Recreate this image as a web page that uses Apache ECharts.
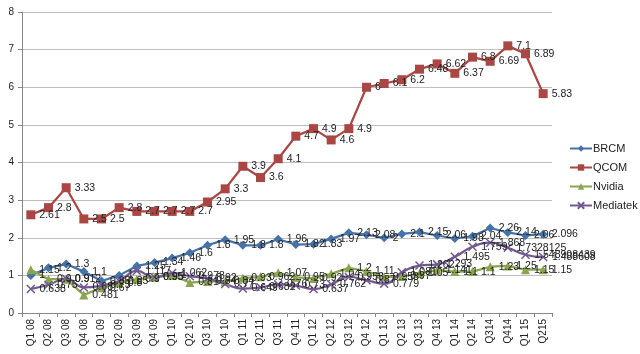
<!DOCTYPE html>
<html>
<head>
<meta charset="utf-8">
<script src="https://cdn.jsdelivr.net/npm/echarts@6/dist/echarts.min.js"></script>
<style>
  html, body { margin: 0; padding: 0; background: #fff; }
  #chart { width: 640px; height: 354px; }
</style>
</head>
<body>
<div id="chart"></div>
<script>
const quarters = ['Q1 08', 'Q2 08', 'Q3 08', 'Q4 08', 'Q1 09', 'Q2 09', 'Q3 09', 'Q4 09', 'Q1 10', 'Q2 10',
  'Q3 10', 'Q4 10', 'Q1 11', 'Q2 11', 'Q3 11', 'Q4 11', 'Q1 12', 'Q2 12', 'Q3 12', 'Q4 12',
  'Q1 13', 'Q2 13', 'Q3 13', 'Q4 13', 'Q1 14', 'Q2 14', 'Q314', 'Q414', 'Q1 15', 'Q215']

const brcm = [1, 1.2, 1.3, 1.1, 0.85, 1, 1.25, 1.34, 1.46, 1.6,
  1.8, 1.95, 1.8, 1.8, 1.96, 1.82, 1.83, 1.97, 2.13, 2.08,
  2, 2.1, 2.15, 2.06, 1.98, 2.04, 2.26, 2.14, 2.06, 2.096]

const qcom = [2.61, 2.8, 3.33, 2.5, 2.5, 2.8, 2.7, 2.7, 2.7, 2.7,
  2.95, 3.3, 3.9, 3.6, 4.1, 4.7, 4.9, 4.6, 4.9, 6,
  6.1, 6.2, 6.48, 6.62, 6.37, 6.8, 6.69, 7.1, 6.89, 5.83]

const nvidia = [1.15, 0.9, 0.9, 0.481, 0.67, 0.8, 0.9, 0.95, 1, 0.81,
  0.84, 0.84, 0.93, 0.962, 1.07, 0.95, 0.92, 1.04, 1.2, 1.11,
  0.958, 0.97, 1.05, 1.141, 1.1, 1.1, 1.23, 1.25, 1.15, 1.15]

const mediatek = [0.638, 0.75, 0.912, 0.68, 0.73, 0.85, 1.117, 0.95, 1.062, 0.978,
  0.92, 0.77, 0.649, 0.682, 0.76, 0.73, 0.637, 0.762, 0.958, 0.87,
  0.779, 1.081, 1.262, 1.293, 1.495, 1.759, 1.868, 1.7328125, 1.548908439, 1.488608]

const colorList = ['#4572A7', '#AA4643', '#89A54E', '#71588F']

function lineSeries(name, data, symbol, size, color, smooth) {
  return {
    name: name,
    type: 'line',
    data: data,
    smooth: smooth,
    symbol: symbol,
    symbolSize: size,
    lineStyle: { color: color, width: 2.25 },
    itemStyle: { color: color, borderColor: color, borderWidth: symbol.indexOf('path') === 0 ? 1.5 : 0 },
    label: {
      show: true,
      position: 'right',
      distance: 4,
      fontSize: 10.5,
      color: '#222',
      fontFamily: 'Liberation Sans'
    },
    emphasis: { disabled: true },
    animation: false
  }
}

let chart = echarts.init(document.getElementById('chart'))
chart.setOption({
  color: colorList,
  textStyle: { fontFamily: 'Liberation Sans' },
  grid: { left: 22, right: 88, top: 12, bottom: 41 },
  legend: {
    orient: 'vertical',
    left: 564,
    top: 138,
    itemWidth: 22,
    itemHeight: 8,
    itemGap: 8,
    textStyle: { fontSize: 11, color: '#222', padding: [0, 0, 0, -4] },
    data: ['BRCM', 'QCOM', 'Nvidia', 'Mediatek']
  },
  xAxis: {
    type: 'category',
    data: quarters,
    boundaryGap: true,
    axisLine: { lineStyle: { color: '#888', width: 1 } },
    axisTick: { show: true, length: 4, lineStyle: { color: '#888' } },
    axisLabel: { rotate: 90, interval: 0, fontSize: 10, color: '#222', margin: 6 }
  },
  yAxis: {
    type: 'value',
    min: 0,
    max: 8,
    interval: 1,
    axisLine: { show: true, lineStyle: { color: '#888', width: 1 } },
    axisTick: { show: true, length: 4, lineStyle: { color: '#888' } },
    axisLabel: { fontSize: 10, color: '#222', margin: 8 },
    // 网格线
    splitLine: { show: true, lineStyle: { color: '#BEBEBE', width: 1 } }
  },
  series: [
    lineSeries('BRCM', brcm, 'diamond', 9, colorList[0], false),
    lineSeries('QCOM', qcom, 'rect', 9, colorList[1], false),
    lineSeries('Nvidia', nvidia, 'triangle', 9, colorList[2], false),
    lineSeries('Mediatek', mediatek, 'path://M0,0L10,10M10,0L0,10', 8, colorList[3], true)
  ]
})
</script>
</body>
</html>
